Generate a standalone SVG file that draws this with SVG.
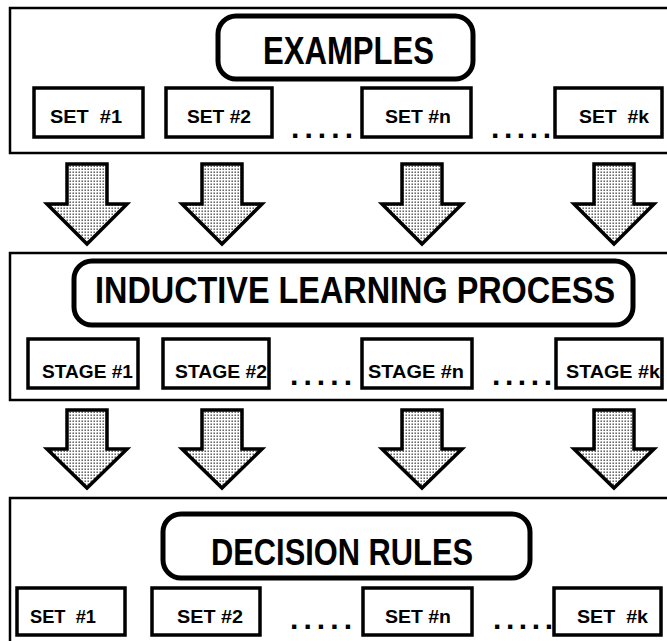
<svg xmlns="http://www.w3.org/2000/svg" width="667" height="641" viewBox="0 0 667 641">
<defs>
<pattern id="stip" width="3" height="3" patternUnits="userSpaceOnUse">
<rect width="3" height="3" fill="#ffffff"/>
<rect x="0.5" y="0.5" width="1.4" height="1.4" fill="#444"/>
</pattern>
</defs>
<style>
.panel{fill:#fff;stroke:#000;stroke-width:2.5}
.title{fill:#fff;stroke:#000;stroke-width:5}
.box{fill:#fff;stroke:#000;stroke-width:3.5}
.arrow{fill:url(#stip);stroke:#000;stroke-width:3.5;stroke-linejoin:miter}
text{font-family:"Liberation Sans",Arial,sans-serif;font-weight:bold;fill:#000}
.h{font-size:38px}
.lbl{font-size:19px}
.dots{font-size:30px}
</style>
<rect width="667" height="641" fill="#fff"/>

<g id="panel-examples">
<rect class="panel" x="10" y="8" width="662" height="145"/>
</g>
<g id="panel-process">
<rect class="panel" x="10" y="253" width="662" height="147"/>
</g>
<g id="panel-rules">
<rect class="panel" x="10" y="498" width="662" height="152"/>
</g>

<g id="examples">
<rect class="title" x="218" y="16" width="255" height="63" rx="18"/>
<text class="h" x="263" y="64" textLength="171" lengthAdjust="spacingAndGlyphs">EXAMPLES</text>
</g>
<g id="ex-set1"><rect class="box" x="34" y="88" width="109" height="49"/><text class="lbl" x="50" y="123" textLength="72" lengthAdjust="spacingAndGlyphs" xml:space="preserve">SET  #1</text></g>
<g id="ex-set2"><rect class="box" x="166" y="88" width="106" height="49"/><text class="lbl" x="187" y="123" textLength="64" lengthAdjust="spacingAndGlyphs">SET #2</text></g>
<g id="ex-setn"><rect class="box" x="362" y="88" width="109" height="49"/><text class="lbl" x="385" y="123" textLength="66" lengthAdjust="spacingAndGlyphs">SET #n</text></g>
<g id="ex-setk"><rect class="box" x="555" y="88" width="107" height="49"/><text class="lbl" x="579" y="123" textLength="70" lengthAdjust="spacingAndGlyphs" xml:space="preserve">SET  #k</text></g>
<text class="dots" x="291" y="138" textLength="62" lengthAdjust="spacing">.....</text>
<text class="dots" x="491" y="138" textLength="60" lengthAdjust="spacing">.....</text>

<g id="process">
<rect class="title" x="74" y="261" width="559" height="64" rx="18"/>
<g transform="translate(95,303) scale(1,1.15)">
<text x="0" y="0" textLength="520" lengthAdjust="spacingAndGlyphs" style="font-size:32px">INDUCTIVE LEARNING PROCESS</text>
</g>
</g>
<g id="stage1"><rect class="box" x="28" y="339" width="110" height="49"/><text class="lbl" x="42" y="378" textLength="91" lengthAdjust="spacingAndGlyphs">STAGE #1</text></g>
<g id="stage2"><rect class="box" x="163" y="339" width="106" height="49"/><text class="lbl" x="175" y="378" textLength="92" lengthAdjust="spacingAndGlyphs">STAGE #2</text></g>
<g id="stagen"><rect class="box" x="362" y="339" width="110" height="49"/><text class="lbl" x="368" y="378" textLength="96" lengthAdjust="spacingAndGlyphs">STAGE #n</text></g>
<g id="stagek"><rect class="box" x="556" y="339" width="106" height="49"/><text class="lbl" x="566" y="378" textLength="94" lengthAdjust="spacingAndGlyphs">STAGE #k</text></g>
<text class="dots" x="290" y="385" textLength="62" lengthAdjust="spacing">.....</text>
<text class="dots" x="492" y="385" textLength="60" lengthAdjust="spacing">.....</text>

<g id="rules">
<rect class="title" x="163" y="514" width="367" height="64" rx="18"/>
<text class="h" x="211" y="565" textLength="262" lengthAdjust="spacingAndGlyphs" style="font-size:37px">DECISION RULES</text>
</g>
<g id="r-set1"><rect class="box" x="17" y="588" width="108" height="47"/><text class="lbl" x="30" y="623" textLength="66" lengthAdjust="spacingAndGlyphs" xml:space="preserve">SET  #1</text></g>
<g id="r-set2"><rect class="box" x="152" y="588" width="108" height="47"/><text class="lbl" x="177" y="623" textLength="66" lengthAdjust="spacingAndGlyphs">SET #2</text></g>
<g id="r-setn"><rect class="box" x="363" y="588" width="109" height="47"/><text class="lbl" x="385" y="623" textLength="66" lengthAdjust="spacingAndGlyphs">SET #n</text></g>
<g id="r-setk"><rect class="box" x="554" y="588" width="107" height="47"/><text class="lbl" x="577" y="623" textLength="71" lengthAdjust="spacingAndGlyphs" xml:space="preserve">SET  #k</text></g>
<text class="dots" x="290" y="629" textLength="62" lengthAdjust="spacing">.....</text>
<text class="dots" x="493" y="629" textLength="60" lengthAdjust="spacing">.....</text>

<g id="connectors">
<polygon class="arrow" points="67,164 107,164 107,204 127,204 87,244 47,204 67,204"/>
<polygon class="arrow" points="202,164 242,164 242,204 262,204 222,244 182,204 202,204"/>
<polygon class="arrow" points="402,164 442,164 442,204 462,204 422,244 382,204 402,204"/>
<polygon class="arrow" points="594,164 634,164 634,204 654,204 614,244 574,204 594,204"/>
<polygon class="arrow" points="67,410 107,410 107,449 127,449 87,488 47,449 67,449"/>
<polygon class="arrow" points="202,410 242,410 242,449 262,449 222,488 182,449 202,449"/>
<polygon class="arrow" points="402,410 442,410 442,449 462,449 422,488 382,449 402,449"/>
<polygon class="arrow" points="594,410 634,410 634,449 654,449 614,488 574,449 594,449"/>
</g>
</svg>
